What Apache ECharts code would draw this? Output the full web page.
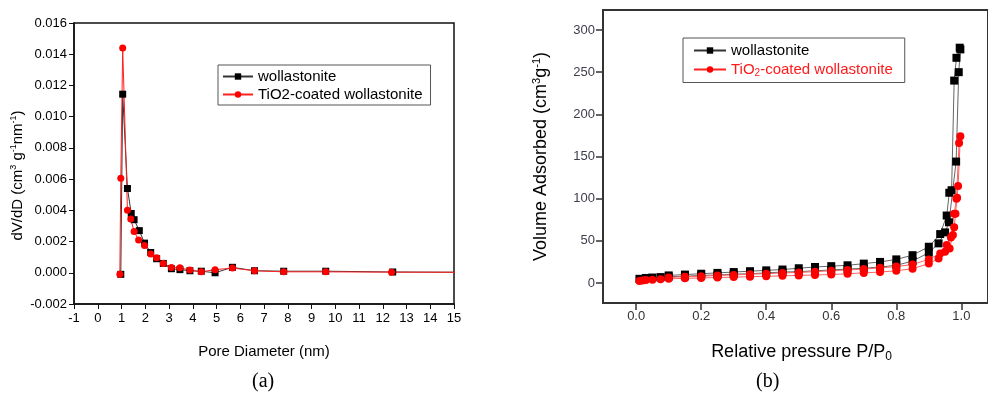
<!DOCTYPE html>
<html>
<head>
<meta charset="utf-8">
<script src="https://cdn.jsdelivr.net/npm/echarts@6/dist/echarts.min.js"></script>
<style>
  html, body { margin: 0; padding: 0; background: #fff; }
  #chart { width: 988px; height: 396px; }
</style>
</head>
<body>
<div id="chart"></div>
<script>
// (a) pore size distribution
const poreW = [0.97, 1.05, 1.25, 1.41, 1.53, 1.75, 1.97, 2.23, 2.48, 2.76, 3.1, 3.46, 3.88, 4.36, 4.94, 5.67, 6.6, 7.83, 9.6, 12.42, 16];
const dvdW = [-0.0001, 0.01144, 0.0054, 0.0038, 0.0034, 0.0027, 0.0019, 0.0013, 0.0009, 0.0006, 0.00026, 0.0002, 0.00013, 0.0001, 0.0, 0.00035, 0.00013, 0.0001, 0.0001, 0.00005, 0.00003];
const poreT = [0.93, 0.97, 1.05, 1.25, 1.39, 1.53, 1.72, 1.97, 2.23, 2.48, 2.76, 3.1, 3.46, 3.88, 4.36, 4.94, 5.67, 6.6, 7.83, 9.6, 12.37, 16];
const dvdT = [-0.0001, 0.00605, 0.0144, 0.004, 0.00344, 0.00265, 0.0021, 0.00175, 0.0012, 0.00096, 0.0006, 0.00034, 0.00032, 0.00017, 0.00006, 0.0002, 0.0003, 0.00013, 0.00006, 0.00006, 0.00004, 0.00003];

// (b) isotherms: adsorption branch then desorption branch
const presW = [0.01, 0.03, 0.05, 0.075, 0.1, 0.15, 0.2, 0.25, 0.3, 0.35, 0.4, 0.45, 0.5, 0.55, 0.6, 0.65, 0.7, 0.75, 0.8, 0.85, 0.9, 0.93, 0.95, 0.962, 0.984, 0.992, 0.997,
  0.995, 0.985, 0.978, 0.97, 0.963, 0.955, 0.935, 0.9, 0.85, 0.8, 0.75, 0.7, 0.65, 0.6, 0.55, 0.5, 0.45, 0.4, 0.35, 0.3, 0.25, 0.2, 0.15, 0.1];
const volW = [5, 6, 6.5, 7, 7.5, 8, 9, 9.5, 10.5, 11, 12, 13, 13.5, 14.5, 15.5, 16.5, 17.5, 19, 21, 26, 36, 47, 60, 72, 144, 250, 277,
  279, 267, 240, 110, 107, 80, 58, 43, 33, 28, 25, 23, 21, 20, 19, 17.5, 16, 15, 14, 13, 12, 11, 10, 9];
const presT = [0.01, 0.02, 0.03, 0.05, 0.075, 0.1, 0.15, 0.2, 0.25, 0.3, 0.35, 0.4, 0.45, 0.5, 0.55, 0.6, 0.65, 0.7, 0.75, 0.8, 0.85, 0.9, 0.93, 0.95, 0.964, 0.974, 0.978, 0.982, 0.987, 0.99, 0.997,
  0.993, 0.985, 0.978, 0.968, 0.955, 0.935, 0.9, 0.85, 0.8, 0.75, 0.7, 0.65, 0.6, 0.55, 0.5, 0.45, 0.4, 0.35, 0.3, 0.25, 0.2, 0.15, 0.1];
const volT = [2.5, 3, 3.5, 4, 4.5, 5, 5.5, 6, 6.5, 7, 7.5, 8, 8.5, 9, 9.5, 10, 11, 12, 13, 14.5, 17, 23, 29, 37, 41, 57, 66, 82, 101, 115, 174,
  166, 100, 82, 54, 45, 35, 28, 22, 19.5, 18, 16.5, 15.5, 14.5, 13.5, 12.5, 12, 11, 10.5, 9.5, 9, 8, 7.5, 6.5];

const volTicks = [0, 50, 100, 150, 200, 250, 300];
const presTicks = [0, 0.2, 0.4, 0.6, 0.8, 1.0];

const NAME_W = "wollastonite";
const NAME_T = "TiO2-coated wollastonite";

const zip = (xs, ys) => xs.map((x, i) => [x, ys[i]]);

const chart = echarts.init(document.getElementById("chart"));

const font = "'Liberation Sans', Arial, sans-serif";

const option = {
  animation: false,
  textStyle: { fontFamily: font },
  grid: [
    { left: 74, top: 23, width: 380, height: 281, show: true, borderColor: "#111", borderWidth: 1.5 },
    { left: 603, top: 10, width: 390, height: 293, show: true, borderColor: "#333", borderWidth: 2 },
  ],
  legend: [
    {
      left: 218, top: 65, orient: "vertical",
      data: [NAME_W, NAME_T],
      itemWidth: 30, itemHeight: 8, itemGap: 3,
      padding: [4, 8, 3, 4],
      borderColor: "#555", borderWidth: 1,
      textStyle: { fontSize: 15, color: "#000", fontFamily: font },
    },
    {
      left: 683, top: 38, orient: "vertical",
      data: [NAME_W, { name: NAME_T, textStyle: { color: "#ff1a1a" } }],
      itemWidth: 32, itemHeight: 8, itemGap: 4,
      padding: [5, 12, 4, 10],
      borderColor: "#555", borderWidth: 1,
      textStyle: {
        fontSize: 15, color: "#000", fontFamily: font,
        rich: {
          r: { fontSize: 15, color: "#ff1a1a", fontFamily: font },
          rs: { fontSize: 10, color: "#ff1a1a", fontFamily: font, verticalAlign: "bottom", padding: [8, 0, 0, 0] },
        },
      },
      formatter: (n) => n === NAME_T ? "{r|TiO}{rs|2}{r|-coated wollastonite}" : n,
    },
  ],
  xAxis: [
    {
      gridIndex: 0, type: "value", min: -1, max: 15, interval: 1,
      axisLine: { show: true, onZero: false, lineStyle: { color: "#111", width: 1.5 } },
      axisTick: { show: true, length: 5, lineStyle: { color: "#111" } },
      splitLine: { show: false },
      axisLabel: { color: "#000", fontSize: 13, margin: 8 },
      name: "Pore Diameter (nm)", nameLocation: "middle", nameGap: 40,
      nameTextStyle: { color: "#000", fontSize: 15 },
    },
    {
      gridIndex: 1, type: "value", min: -0.102, max: 1.082,
      axisLine: { show: true, onZero: false, lineStyle: { color: "#333", width: 2 } },
      axisTick: { show: true, length: 7, customValues: presTicks, lineStyle: { color: "#333", width: 1.5 } },
      splitLine: { show: false },
      axisLabel: { color: "#333", fontSize: 13, margin: 7, customValues: presTicks, formatter: (v) => v.toFixed(1) },
      name: "{a|Relative pressure P/P}{s|0}", nameLocation: "middle", nameGap: 38,
      nameTextStyle: {
        padding: [0, 0, 0, 12],
        rich: {
          a: { fontSize: 18, color: "#000" },
          s: { fontSize: 12, color: "#000", verticalAlign: "bottom", padding: [10, 0, 0, 0] },
        },
      },
    },
  ],
  yAxis: [
    {
      gridIndex: 0, type: "value", min: -0.002, max: 0.016, interval: 0.002,
      axisLine: { show: true, onZero: false, lineStyle: { color: "#111", width: 1.5 } },
      axisTick: { show: true, length: 5, lineStyle: { color: "#111" } },
      splitLine: { show: false },
      axisLabel: { color: "#000", fontSize: 13, margin: 7, formatter: (v) => v.toFixed(3) },
      name: "{a|dV/dD (cm}{s|3}{a| g}{s|-1}{a|nm}{s|-1}{a|)}", nameLocation: "middle", nameGap: 48,
      nameTextStyle: {
        padding: [0, 24, 0, 0],
        rich: {
          a: { fontSize: 15, color: "#000" },
          s: { fontSize: 9, color: "#000", verticalAlign: "top", padding: [0, 0, 8, 0] },
        },
      },
    },
    {
      gridIndex: 1, type: "value", min: -23.7, max: 323.7,
      axisLine: { show: true, onZero: false, lineStyle: { color: "#333", width: 2 } },
      axisTick: { show: true, length: 7, customValues: volTicks, lineStyle: { color: "#333", width: 1.5 } },
      splitLine: { show: false },
      axisLabel: { color: "#3d3d4d", fontSize: 13, margin: 8, customValues: volTicks },
      name: "{a|Volume Adsorbed (cm}{s|3}{a|g}{s|-1}{a|)}", nameLocation: "middle", nameGap: 52,
      nameTextStyle: {
        rich: {
          a: { fontSize: 18, color: "#000" },
          s: { fontSize: 11, color: "#000", verticalAlign: "top", padding: [0, 0, 9, 0] },
        },
      },
    },
  ],
  series: [
    {
      name: NAME_W, type: "line", xAxisIndex: 0, yAxisIndex: 0,
      data: zip(poreW, dvdW),
      symbol: "rect", symbolSize: 7,
      itemStyle: { color: "#000" },
      lineStyle: { color: "#333", width: 1 },
    },
    {
      name: NAME_T, type: "line", xAxisIndex: 0, yAxisIndex: 0,
      data: zip(poreT, dvdT),
      symbol: "circle", symbolSize: 7,
      itemStyle: { color: "#ff0000" },
      lineStyle: { color: "#ff2020", width: 1 },
    },
    {
      name: NAME_W, type: "line", xAxisIndex: 1, yAxisIndex: 1,
      data: zip(presW, volW),
      symbol: "rect", symbolSize: 8,
      itemStyle: { color: "#000" },
      lineStyle: { color: "#666", width: 1 },
    },
    {
      name: NAME_T, type: "line", xAxisIndex: 1, yAxisIndex: 1,
      data: zip(presT, volT),
      symbol: "circle", symbolSize: 8,
      itemStyle: { color: "#ff0000" },
      lineStyle: { color: "#ff6060", width: 1 },
    },
  ],
  graphic: [
    { type: "text", left: 252, top: 372, style: { text: "(a)", font: "20px 'Liberation Serif', 'DejaVu Serif', serif", fill: "#000" } },
    { type: "text", left: 756, top: 372, style: { text: "(b)", font: "20px 'Liberation Serif', 'DejaVu Serif', serif", fill: "#000" } },
  ],
};

chart.setOption(option);
window.addEventListener("resize", () => chart.resize());
</script>
</body>
</html>
